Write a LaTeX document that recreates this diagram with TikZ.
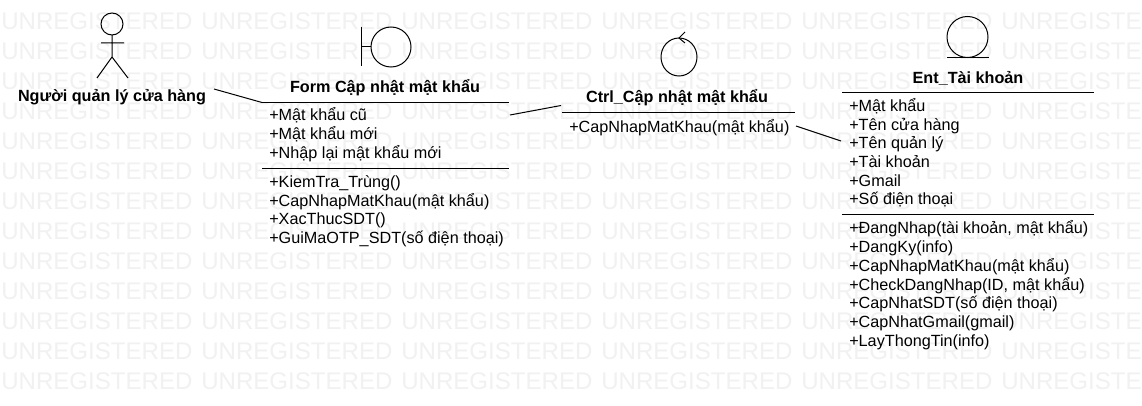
\documentclass[tikz,border=0pt]{standalone}
\usepackage{fontspec}
\setmainfont{Liberation Sans}
\definecolor{wmgray}{HTML}{F1F1F1}
\tikzstyle{wm}=[inner sep=0pt,text=wmgray,font=\fontsize{18.05pt}{18.05pt}\selectfont,anchor=west]
\tikzstyle{title}=[inner sep=0pt,font=\fontsize{12.15pt}{14pt}\selectfont\bfseries,text height=10pt,text depth=0pt]
\tikzstyle{member}=[inner sep=0pt,anchor=west,font=\fontsize{12.15pt}{14pt}\selectfont,text height=10pt,text depth=0pt]
\tikzstyle{ln}=[line width=0.75pt,black]

\begin{document}
\begin{tikzpicture}[x=0.75pt,y=-0.75pt]
        \path[use as bounding box,clip] (0,0) rectangle (1142,406);
        \fill[white] (0,0) rectangle (1142,406);
        % watermark
        \foreach \r in {0,...,12} {
            \foreach \c in {0,...,5} {
                \node[wm] (wm\r\c) at (200*\c+1, 21.5+30*\r) {UNREGISTERED};
            }
        }
        % actor
        \draw[ln] (112,24) circle[radius=11];
        \draw[ln] (112,35) -- (112,57) (101,43) -- (124,43) (97,78) -- (112,57) -- (128,78);
        \node[title] (actor) at (112,95) {Người quản lý cửa hàng};
        % boundary
        \draw[ln] (361,27) -- (361,66) (361,47) -- (371,47);
        \draw[ln] (391,47) circle[radius=20];
        \node[title] (form) at (385,86) {Form Cập nhật mật khẩu};
        \coordinate (formA) at (262,102.5);
        \coordinate (formB) at (509,102.5);
        \coordinate (formC) at (262,168.5);
        \coordinate (formD) at (509,168.5);
        \draw[ln] (formA) -- (formB) (formC) -- (formD);
        \node[member] (f1) at (269,114) {+Mật khẩu cũ};
        \node[member] (f2) at (269,133) {+Mật khẩu mới};
        \node[member] (f3) at (269,152) {+Nhập lại mật khẩu mới};
        \node[member] (f4) at (269,181) {+KiemTra\_Trùng()};
        \node[member] (f5) at (269,200) {+CapNhapMatKhau(mật khẩu)};
        \node[member] (f6) at (269,218) {+XacThucSDT()};
        \node[member] (f7) at (269,237) {+GuiMaOTP\_SDT(số điện thoại)};
        % control
        \draw[ln] (679,57) circle[x radius=18,y radius=19];
        \draw[ln] (685,32) -- (679,38) -- (685,43);
        \node[title] (ctrl) at (677,96) {Ctrl\_Cập nhật mật khẩu};
        \coordinate (ctrlA) at (562,112.5);
        \coordinate (ctrlB) at (795,112.5);
        \draw[ln] (ctrlA) -- (ctrlB);
        \node[member] (c1) at (569,126) {+CapNhapMatKhau(mật khẩu)};
        % entity
        \draw[ln] (967.5,37) circle[radius=20.5];
        \draw[ln] (947,57.5) -- (989,57.5);
        \node[title] (ent) at (968,77) {Ent\_Tài khoản};
        \coordinate (entA) at (842,92.5);
        \coordinate (entB) at (1094,92.5);
        \coordinate (entC) at (842,214.5);
        \coordinate (entD) at (1094,214.5);
        \draw[ln] (entA) -- (entB) (entC) -- (entD);
        \node[member] (e1) at (849,105) {+Mật khẩu};
        \node[member] (e2) at (849,124) {+Tên cửa hàng};
        \node[member] (e3) at (849,142) {+Tên quản lý};
        \node[member] (e4) at (849,161) {+Tài khoản};
        \node[member] (e5) at (849,180) {+Gmail};
        \node[member] (e6) at (849,198) {+Số điện thoại};
        \node[member] (e7) at (849,227) {+ĐangNhap(tài khoản, mật khẩu)};
        \node[member] (e8) at (849,246) {+DangKy(info)};
        \node[member] (e9) at (849,265) {+CapNhapMatKhau(mật khẩu)};
        \node[member] (e10) at (849,284) {+CheckDangNhap(ID, mật khẩu)};
        \node[member] (e11) at (849,302) {+CapNhatSDT(số điện thoại)};
        \node[member] (e12) at (849,321) {+CapNhatGmail(gmail)};
        \node[member] (e13) at (849,340) {+LayThongTin(info)};
        % links
        \coordinate (p1) at (214,89);
        \coordinate (p2) at (510,115);
        \coordinate (p3) at (561,105.5);
        \coordinate (p4) at (796,126);
        \coordinate (p5) at (841,141);
        \draw[ln] (p1) -- (formA);
        \draw[ln] (p2) -- (p3);
        \draw[ln] (p4) -- (p5);
\end{tikzpicture}
\end{document}
